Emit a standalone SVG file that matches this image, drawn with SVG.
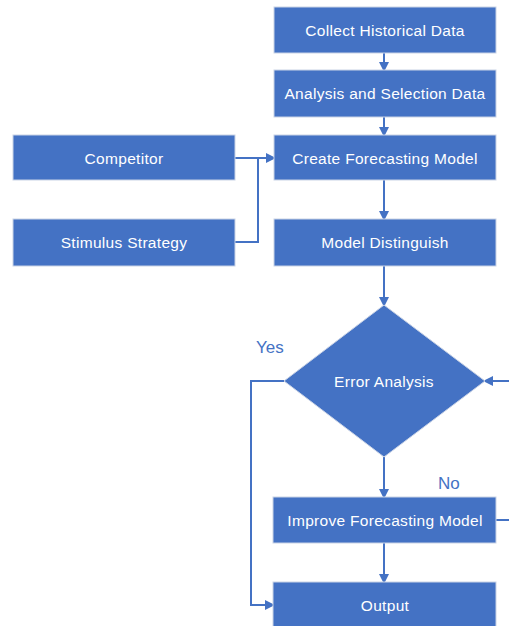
<svg xmlns="http://www.w3.org/2000/svg" width="509" height="626" viewBox="0 0 509 626">
<style>
.box{fill:#4472C4;stroke:#c9d3e6;stroke-width:1}
.lbl{font-family:"Liberation Sans","Open Sans",sans-serif;font-size:15.5px;letter-spacing:0.3px;fill:#ffffff;text-anchor:middle}
.cond{font-family:"Liberation Sans","Open Sans",sans-serif;font-size:17px;fill:#4472C4}
.edge{fill:none;stroke:#4472C4;stroke-width:2}
</style>
<defs>
<marker id="arr" markerWidth="10" markerHeight="10" refX="8" refY="5" orient="auto" markerUnits="userSpaceOnUse" viewBox="0 0 10 10">
<path d="M0,0 L10,5 L0,10 z" fill="#4472C4"/>
</marker>
</defs>
<rect width="509" height="626" fill="#ffffff"/>
<g id="connectors">
<path class="edge" d="M384,53 L384,70" marker-end="url(#arr)"/>
<path class="edge" d="M384,117 L384,135" marker-end="url(#arr)"/>
<path class="edge" d="M235,158 L274,158" marker-end="url(#arr)"/>
<path class="edge" d="M235,242 L258,242 L258,158"/>
<path class="edge" d="M384,180 L384,219" marker-end="url(#arr)"/>
<path class="edge" d="M384,266 L384,305" marker-end="url(#arr)"/>
<path class="edge" d="M284,381 L251,381 L251,605 L273,605" marker-end="url(#arr)"/>
<path class="edge" d="M384,457 L384,497" marker-end="url(#arr)"/>
<path class="edge" d="M496,520 L515,520 L515,381 L485,381" marker-end="url(#arr)"/>
<path class="edge" d="M384,543 L384,582" marker-end="url(#arr)"/>
</g>
<g id="collect"><rect class="box" x="274" y="7" width="222" height="46"/><text class="lbl" x="385" y="35.5">Collect Historical Data</text></g>
<g id="analysis"><rect class="box" x="274" y="70" width="222" height="47"/><text class="lbl" x="385" y="99">Analysis and Selection Data</text></g>
<g id="create"><rect class="box" x="274" y="135" width="222" height="45"/><text class="lbl" x="385" y="163.5">Create Forecasting Model</text></g>
<g id="competitor"><rect class="box" x="13" y="135" width="222" height="45"/><text class="lbl" x="124" y="163.5">Competitor</text></g>
<g id="stimulus"><rect class="box" x="13" y="219" width="222" height="47"/><text class="lbl" x="124" y="248">Stimulus Strategy</text></g>
<g id="distinguish"><rect class="box" x="274" y="219" width="222" height="47"/><text class="lbl" x="385" y="248">Model Distinguish</text></g>
<g id="error"><path class="box" d="M384,305 L485,381 L384,457 L284,381 Z"/><text class="lbl" x="384" y="386.5">Error Analysis</text></g>
<g id="improve"><rect class="box" x="273" y="497" width="223" height="46"/><text class="lbl" x="385" y="525.5">Improve Forecasting Model</text></g>
<g id="output"><rect class="box" x="273" y="582" width="223" height="46"/><text class="lbl" x="385" y="610.5">Output</text></g>
<text class="cond" x="256" y="353">Yes</text>
<text class="cond" x="438" y="489">No</text>
</svg>
